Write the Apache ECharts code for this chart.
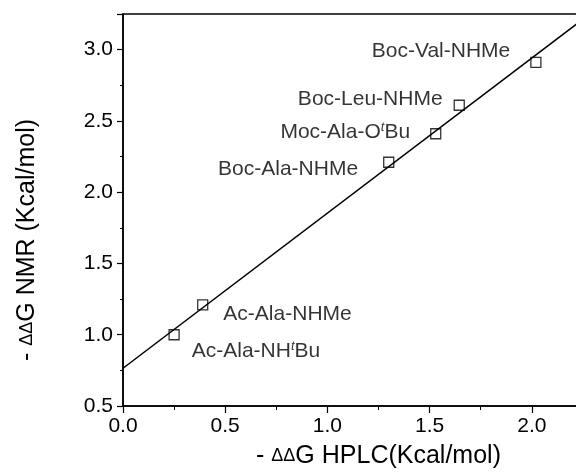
<!DOCTYPE html>
<html>
<head>
<meta charset="utf-8">
<script src="https://cdn.jsdelivr.net/npm/echarts@6/dist/echarts.min.js"></script>
<style>
html,body{margin:0;padding:0;background:#fff;}
#chart{width:576px;height:473px;}
</style>
</head>
<body>
<div id="chart"></div>
<script>
// ---- data ----
const compounds = ['Ac-Ala-NH{i|t}Bu', 'Ac-Ala-NHMe', 'Boc-Ala-NHMe', 'Moc-Ala-O{i|t}Bu', 'Boc-Leu-NHMe', 'Boc-Val-NHMe'];
const hplcValues = [0.25, 0.39, 1.30, 1.53, 1.645, 2.02];
const nmrValues = [1.00, 1.21, 2.21, 2.41, 2.61, 2.91];
const fitX = [0, 2.5];
const fitY = [0.765, 3.485];
const xTitle = '- {d|ΔΔ}G HPLC(Kcal/mol)';
const yTitle = '- {d|ΔΔ}G NMR (Kcal/mol)';

// ---- layout / style (not data) ----
const labelLayout = [
  {position: 'right', offset: [12, 16]},
  {position: 'right', offset: [15, 9]},
  {position: 'left', offset: [-25, 7]},
  {position: 'left', offset: [-20, -2]},
  {position: 'left', offset: [-11, -6]},
  {position: 'left', offset: [-20, -11]}
];
const font = '"Liberation Sans", Arial, Helvetica, sans-serif';
const richSup = {i: {fontSize: 13, fontStyle: 'italic', verticalAlign: 'top', fontFamily: font, color: '#000'}};

const points = compounds.map((name, k) => ({
  value: [hplcValues[k], nmrValues[k]],
  name: name,
  label: {
    show: true,
    formatter: name,
    position: labelLayout[k].position,
    distance: 0,
    offset: labelLayout[k].offset,
    fontSize: 21,
    fontFamily: font,
    color: '#000',
    rich: richSup
  }
}));

const chart = echarts.init(document.getElementById('chart'), null, {renderer: 'canvas'});
chart.setOption({
  animation: false,
  backgroundColor: '#fff',
  grid: {
    left: 123, top: 14, width: 511, height: 392,
    containLabel: false, outerBoundsMode: 'none',
    show: true, borderColor: '#000', borderWidth: 1.5, backgroundColor: 'transparent'
  },
  xAxis: {
    type: 'value', min: 0, max: 2.5, interval: 0.5,
    name: xTitle, nameLocation: 'middle', nameGap: 38,
    nameTextStyle: {fontSize: 25, fontFamily: font, color: '#000',
      rich: {d: {fontSize: 18, fontFamily: font, color: '#000'}}},
    axisLine: {show: true, lineStyle: {color: '#000', width: 1.5}},
    axisTick: {show: true, length: 7, lineStyle: {color: '#000', width: 1.2}},
    minorTick: {show: true, splitNumber: 2, length: 4, lineStyle: {color: '#000', width: 1}},
    splitLine: {show: false},
    axisLabel: {fontSize: 21, fontFamily: font, color: '#000', margin: 10,
      formatter: v => v.toFixed(1)}
  },
  yAxis: {
    type: 'value', min: 0.5, max: 3.25, interval: 0.5,
    axisLine: {show: true, lineStyle: {color: '#000', width: 1.5}},
    axisTick: {show: true, length: 6, lineStyle: {color: '#000', width: 1.2},
      interval: (i, v) => Math.abs(v * 2 - Math.round(v * 2)) < 1e-9},
    minorTick: {show: true, splitNumber: 2, length: 3, lineStyle: {color: '#000', width: 1}},
    splitLine: {show: false},
    axisLabel: {fontSize: 21, fontFamily: font, color: '#000', margin: 10, showMaxLabel: false,
      formatter: v => (Math.abs(v * 2 - Math.round(v * 2)) < 1e-9 ? v.toFixed(1) : '')}
  },
  graphic: [{
    type: 'text', x: 27, y: 240, rotation: Math.PI / 2,
    style: {text: yTitle, fontSize: 25, fontFamily: font, fill: '#000',
      align: 'center', verticalAlign: 'middle',
      rich: {d: {fontSize: 18, fontFamily: font, fill: '#000'}}}
  }],
  series: [
    {
      type: 'line',
      data: fitX.map((x, k) => [x, fitY[k]]),
      symbol: 'none',
      clip: true,
      lineStyle: {color: '#000', width: 1.5},
      z: 2
    },
    {
      type: 'scatter',
      data: points,
      symbol: 'rect',
      symbolSize: 10,
      itemStyle: {color: 'rgba(0,0,0,0)', borderColor: '#000', borderWidth: 1.3},
      z: 3
    }
  ]
});
</script>
</body>
</html>
